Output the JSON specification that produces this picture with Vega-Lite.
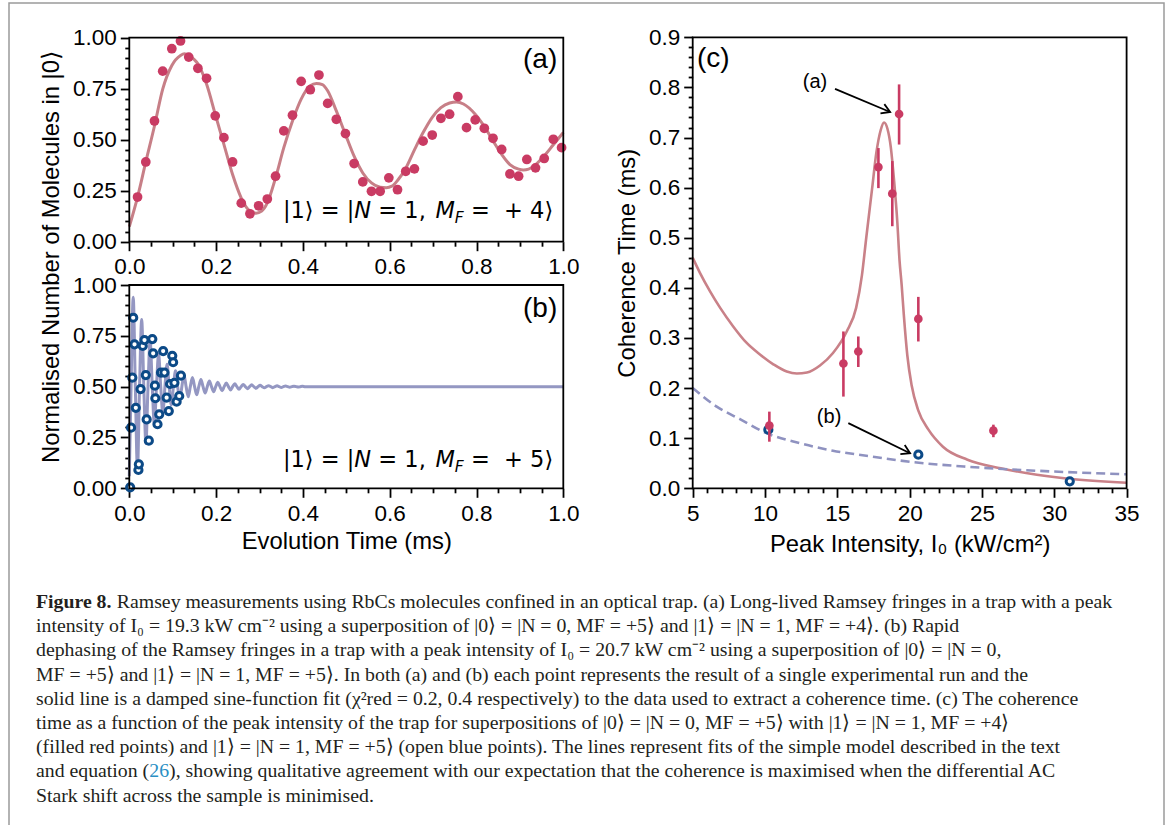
{
"$schema": "https://vega.github.io/schema/vega-lite/v6.json",
"width": 1155, "height": 827,
"autosize": {"type": "none"},
"padding": {"left": 9, "top": 3, "right": 7, "bottom": -5},
"background": "white",
"config": {
  "view": {"stroke": "#9b9b9b", "strokeWidth": 1.5},
  "axis": {"grid": false, "domain": false, "labelFont": "Liberation Sans", "labelFontSize": 22.5, "labelColor": "#000000", "titleFont": "Liberation Sans", "titleFontSize": 23.8, "titleFontWeight": "normal", "titleColor": "#000000", "tickColor": "#000000", "tickWidth": 1.8, "labelOverlap": false, "labelFlush": false, "labelBound": false}
},
"datasets": {
  "a_pts": [{"t":0.019,"v":0.219},{"t":0.038,"v":0.391},{"t":0.058,"v":0.592},{"t":0.077,"v":0.836},{"t":0.098,"v":0.946},{"t":0.118,"v":0.984},{"t":0.137,"v":0.905},{"t":0.158,"v":0.850},{"t":0.178,"v":0.801},{"t":0.198,"v":0.617},{"t":0.218,"v":0.510},{"t":0.238,"v":0.391},{"t":0.258,"v":0.189},{"t":0.278,"v":0.137},{"t":0.298,"v":0.176},{"t":0.318,"v":0.209},{"t":0.337,"v":0.321},{"t":0.356,"v":0.543},{"t":0.376,"v":0.620},{"t":0.396,"v":0.786},{"t":0.417,"v":0.745},{"t":0.437,"v":0.817},{"t":0.457,"v":0.678},{"t":0.477,"v":0.600},{"t":0.498,"v":0.530},{"t":0.518,"v":0.383},{"t":0.538,"v":0.293},{"t":0.558,"v":0.247},{"t":0.578,"v":0.247},{"t":0.598,"v":0.313},{"t":0.618,"v":0.255},{"t":0.637,"v":0.345},{"t":0.657,"v":0.357},{"t":0.677,"v":0.493},{"t":0.698,"v":0.523},{"t":0.718,"v":0.605},{"t":0.738,"v":0.625},{"t":0.757,"v":0.711},{"t":0.777,"v":0.559},{"t":0.797,"v":0.597},{"t":0.818,"v":0.556},{"t":0.838,"v":0.507},{"t":0.858,"v":0.452},{"t":0.877,"v":0.332},{"t":0.897,"v":0.321},{"t":0.916,"v":0.403},{"t":0.936,"v":0.362},{"t":0.956,"v":0.408},{"t":0.977,"v":0.502},{"t":0.996,"v":0.461}],
  "a_fit": [{"t":0,"v":0.074},{"t":0.019,"v":0.219},{"t":0.038,"v":0.391},{"t":0.058,"v":0.567},{"t":0.077,"v":0.748},{"t":0.098,"v":0.864},{"t":0.118,"v":0.913},{"t":0.127,"v":0.921},{"t":0.137,"v":0.913},{"t":0.158,"v":0.872},{"t":0.178,"v":0.773},{"t":0.198,"v":0.625},{"t":0.218,"v":0.477},{"t":0.238,"v":0.329},{"t":0.258,"v":0.214},{"t":0.278,"v":0.150},{"t":0.292,"v":0.140},{"t":0.305,"v":0.150},{"t":0.318,"v":0.190},{"t":0.337,"v":0.313},{"t":0.356,"v":0.461},{"t":0.376,"v":0.592},{"t":0.396,"v":0.699},{"t":0.417,"v":0.765},{"t":0.431,"v":0.776},{"t":0.445,"v":0.770},{"t":0.457,"v":0.740},{"t":0.477,"v":0.641},{"t":0.498,"v":0.526},{"t":0.518,"v":0.419},{"t":0.538,"v":0.337},{"t":0.558,"v":0.288},{"t":0.578,"v":0.267},{"t":0.592,"v":0.265},{"t":0.605,"v":0.272},{"t":0.618,"v":0.300},{"t":0.637,"v":0.360},{"t":0.657,"v":0.450},{"t":0.677,"v":0.535},{"t":0.698,"v":0.610},{"t":0.718,"v":0.657},{"t":0.738,"v":0.680},{"t":0.754,"v":0.685},{"t":0.770,"v":0.675},{"t":0.797,"v":0.625},{"t":0.818,"v":0.565},{"t":0.838,"v":0.495},{"t":0.858,"v":0.428},{"t":0.877,"v":0.378},{"t":0.897,"v":0.356},{"t":0.908,"v":0.352},{"t":0.920,"v":0.356},{"t":0.936,"v":0.378},{"t":0.956,"v":0.420},{"t":0.977,"v":0.475},{"t":1.0,"v":0.535}],
  "b_pts": [{"t":0.002,"v":0.005},{"t":0.004,"v":0.298},{"t":0.007,"v":0.544},{"t":0.009,"v":0.839},{"t":0.012,"v":0.708},{"t":0.015,"v":0.396},{"t":0.021,"v":0.090},{"t":0.022,"v":0.118},{"t":0.026,"v":0.488},{"t":0.031,"v":0.700},{"t":0.035,"v":0.729},{"t":0.038,"v":0.557},{"t":0.040,"v":0.339},{"t":0.045,"v":0.234},{"t":0.053,"v":0.734},{"t":0.055,"v":0.664},{"t":0.059,"v":0.505},{"t":0.060,"v":0.443},{"t":0.065,"v":0.315},{"t":0.069,"v":0.364},{"t":0.073,"v":0.569},{"t":0.078,"v":0.675},{"t":0.081,"v":0.569},{"t":0.086,"v":0.446},{"t":0.091,"v":0.380},{"t":0.094,"v":0.513},{"t":0.099,"v":0.652},{"t":0.101,"v":0.620},{"t":0.104,"v":0.519},{"t":0.109,"v":0.426},{"t":0.115,"v":0.454},{"t":0.119,"v":0.554}],
  "b_fit": [{"t":0,"v":0.06},{"t":0.0041,"v":0.5},{"t":0.009,"v":0.94},{"t":0.0139,"v":0.5},{"t":0.0188,"v":0.09},{"t":0.0236,"v":0.5},{"t":0.0285,"v":0.83},{"t":0.0334,"v":0.5},{"t":0.0383,"v":0.22},{"t":0.0431,"v":0.5},{"t":0.048,"v":0.73},{"t":0.0529,"v":0.5},{"t":0.0578,"v":0.31},{"t":0.0626,"v":0.5},{"t":0.0675,"v":0.66},{"t":0.0724,"v":0.5},{"t":0.0773,"v":0.37},{"t":0.0821,"v":0.5},{"t":0.087,"v":0.61},{"t":0.0919,"v":0.5},{"t":0.0968,"v":0.41},{"t":0.1016,"v":0.5},{"t":0.1065,"v":0.578},{"t":0.1114,"v":0.5},{"t":0.1163,"v":0.434},{"t":0.1211,"v":0.5},{"t":0.126,"v":0.557},{"t":0.1309,"v":0.5},{"t":0.1358,"v":0.45},{"t":0.1406,"v":0.5},{"t":0.1455,"v":0.545},{"t":0.1504,"v":0.5},{"t":0.1553,"v":0.46},{"t":0.1601,"v":0.5},{"t":0.165,"v":0.535},{"t":0.1699,"v":0.5},{"t":0.1748,"v":0.469},{"t":0.1796,"v":0.5},{"t":0.1845,"v":0.528},{"t":0.1894,"v":0.5},{"t":0.1943,"v":0.475},{"t":0.1991,"v":0.5},{"t":0.204,"v":0.522},{"t":0.2089,"v":0.5},{"t":0.2138,"v":0.48},{"t":0.2186,"v":0.5},{"t":0.2235,"v":0.518},{"t":0.2284,"v":0.5},{"t":0.2333,"v":0.484},{"t":0.2381,"v":0.5},{"t":0.243,"v":0.514},{"t":0.2479,"v":0.5},{"t":0.2528,"v":0.487},{"t":0.2576,"v":0.5},{"t":0.2625,"v":0.511},{"t":0.2674,"v":0.5},{"t":0.2723,"v":0.49},{"t":0.2771,"v":0.5},{"t":0.282,"v":0.509},{"t":0.2869,"v":0.5},{"t":0.2918,"v":0.492},{"t":0.2966,"v":0.5},{"t":0.3015,"v":0.507},{"t":0.3064,"v":0.5},{"t":0.3113,"v":0.494},{"t":0.3161,"v":0.5},{"t":0.321,"v":0.505},{"t":0.3259,"v":0.5},{"t":0.3308,"v":0.495},{"t":0.3356,"v":0.5},{"t":0.3405,"v":0.504},{"t":0.3454,"v":0.5},{"t":0.3503,"v":0.496},{"t":0.3551,"v":0.5},{"t":0.36,"v":0.503},{"t":0.3649,"v":0.5},{"t":0.3698,"v":0.497},{"t":0.3746,"v":0.5},{"t":0.3795,"v":0.502},{"t":0.3844,"v":0.5},{"t":0.3893,"v":0.498},{"t":0.3941,"v":0.5},{"t":0.399,"v":0.5015},{"t":0.4039,"v":0.5},{"t":0.4088,"v":0.499},{"t":0.42,"v":0.5},{"t":1.0,"v":0.5}],
  "c_red": [{"I":10.30,"T":0.125,"lo":0.093,"hi":0.153},{"I":15.42,"T":0.249,"lo":0.183,"hi":0.313},{"I":16.45,"T":0.273,"lo":0.242,"hi":0.303},{"I":17.84,"T":0.641,"lo":0.599,"hi":0.679},{"I":18.80,"T":0.588,"lo":0.523,"hi":0.653},{"I":19.27,"T":0.747,"lo":0.686,"hi":0.806},{"I":20.60,"T":0.338,"lo":0.293,"hi":0.382},{"I":25.79,"T":0.115,"lo":0.102,"hi":0.127}],
  "c_blue": [{"I":10.23,"T":0.117},{"I":20.60,"T":0.067},{"I":31.07,"T":0.014}],
  "c_fit_red": [{"I":5.0,"T":0.460},{"I":5.5,"T":0.430},{"I":6.2,"T":0.393},{"I":6.9,"T":0.360},{"I":7.8,"T":0.323},{"I":8.7,"T":0.291},{"I":9.65,"T":0.267},{"I":10.6,"T":0.247},{"I":11.5,"T":0.233},{"I":12.2,"T":0.229},{"I":12.9,"T":0.231},{"I":13.8,"T":0.245},{"I":14.7,"T":0.270},{"I":15.65,"T":0.313},{"I":16.3,"T":0.360},{"I":16.7,"T":0.425},{"I":17.0,"T":0.500},{"I":17.4,"T":0.597},{"I":17.7,"T":0.670},{"I":18.0,"T":0.715},{"I":18.23,"T":0.730},{"I":18.46,"T":0.718},{"I":18.7,"T":0.680},{"I":18.92,"T":0.615},{"I":19.15,"T":0.530},{"I":19.3,"T":0.455},{"I":19.45,"T":0.405},{"I":19.6,"T":0.345},{"I":19.84,"T":0.265},{"I":20.14,"T":0.205},{"I":20.6,"T":0.155},{"I":21.3,"T":0.117},{"I":22.3,"T":0.083},{"I":24.0,"T":0.057},{"I":26.3,"T":0.040},{"I":28.8,"T":0.027},{"I":31.0,"T":0.019},{"I":35.0,"T":0.011}],
  "c_fit_blue": [{"I":5.0,"T":0.200},{"I":6.66,"T":0.163},{"I":8.27,"T":0.138},{"I":10.1,"T":0.110},{"I":12.4,"T":0.090},{"I":14.7,"T":0.075},{"I":17.0,"T":0.065},{"I":20.0,"T":0.053},{"I":24.0,"T":0.043},{"I":28.8,"T":0.035},{"I":35.0,"T":0.028}],
  "caption": [
    {"line":2,"text":"intensity of I₀ = 19.3 kW cm⁻² using a superposition of |0⟩ = |N = 0, MF = +5⟩ and |1⟩ = |N = 1, MF = +4⟩. (b) Rapid"},
    {"line":3,"text":"dephasing of the Ramsey fringes in a trap with a peak intensity of I₀ = 20.7 kW cm⁻² using a superposition of |0⟩ = |N = 0,"},
    {"line":4,"text":"MF = +5⟩ and |1⟩ = |N = 1, MF = +5⟩. In both (a) and (b) each point represents the result of a single experimental run and the"},
    {"line":5,"text":"solid line is a damped sine-function fit (χ²red = 0.2, 0.4 respectively) to the data used to extract a coherence time. (c) The coherence"},
    {"line":6,"text":"time as a function of the peak intensity of the trap for superpositions of |0⟩ = |N = 0, MF = +5⟩ with |1⟩ = |N = 1, MF = +4⟩"},
    {"line":7,"text":"(filled red points) and |1⟩ = |N = 1, MF = +5⟩ (open blue points). The lines represent fits of the simple model described in the text"},
    {"line":9,"text":"Stark shift across the sample is minimised."}
  ]
},
"resolve": {"scale": {"x": "independent", "y": "independent"}},
"layer": [
  {
    "resolve": {"axis": {"x": "independent", "y": "independent"}},
    "layer": [
      {"data": {"name": "a_fit"}, "mark": {"type": "line", "color": "#c77f87", "strokeWidth": 3, "interpolate": "monotone"},
       "encoding": {"x": {"field": "t", "type": "quantitative", "axis": null}, "y": {"field": "v", "type": "quantitative", "axis": null}}},
      {"data": {"name": "a_pts"}, "mark": {"type": "point", "filled": true, "color": "#c93b63", "size": 95, "opacity": 1},
       "encoding": {"x": {"field": "t", "type": "quantitative", "axis": null}, "y": {"field": "v", "type": "quantitative", "axis": null}}},
      {"data": {"values": [{}]}, "mark": {"type": "text", "align": "left", "baseline": "alphabetic", "font": "DejaVu Sans", "fontSize": 22.5, "color": "#000000"},
       "encoding": {"x": {"datum": 0.354, "type": "quantitative", "axis": null}, "y": {"datum": 0.115, "type": "quantitative", "axis": null}, "text": {"value": "|1⟩ = |"}}},
      {"data": {"values": [{}]}, "mark": {"type": "text", "align": "left", "baseline": "alphabetic", "font": "DejaVu Sans", "fontSize": 22.5, "fontStyle": "italic", "dx": 71.4, "color": "#000000"},
       "encoding": {"x": {"datum": 0.354, "type": "quantitative", "axis": null}, "y": {"datum": 0.115, "type": "quantitative", "axis": null}, "text": {"value": "N"}}},
      {"data": {"values": [{}]}, "mark": {"type": "text", "align": "left", "baseline": "alphabetic", "font": "DejaVu Sans", "fontSize": 22.5, "dx": 95.4, "color": "#000000"},
       "encoding": {"x": {"datum": 0.354, "type": "quantitative", "axis": null}, "y": {"datum": 0.115, "type": "quantitative", "axis": null}, "text": {"value": "= 1,"}}},
      {"data": {"values": [{}]}, "mark": {"type": "text", "align": "left", "baseline": "alphabetic", "font": "DejaVu Sans", "fontSize": 22.5, "fontStyle": "italic", "dx": 152.5, "color": "#000000"},
       "encoding": {"x": {"datum": 0.354, "type": "quantitative", "axis": null}, "y": {"datum": 0.115, "type": "quantitative", "axis": null}, "text": {"value": "M"}}},
      {"data": {"values": [{}]}, "mark": {"type": "text", "align": "left", "baseline": "alphabetic", "font": "DejaVu Sans", "fontSize": 15.5, "fontStyle": "italic", "dx": 171.9, "dy": 5, "color": "#000000"},
       "encoding": {"x": {"datum": 0.354, "type": "quantitative", "axis": null}, "y": {"datum": 0.115, "type": "quantitative", "axis": null}, "text": {"value": "F"}}},
      {"data": {"values": [{}]}, "mark": {"type": "text", "align": "left", "baseline": "alphabetic", "font": "DejaVu Sans", "fontSize": 22.5, "dx": 188.0, "color": "#000000"},
       "encoding": {"x": {"datum": 0.354, "type": "quantitative", "axis": null}, "y": {"datum": 0.115, "type": "quantitative", "axis": null}, "text": {"value": "= \u00a0+ 4⟩"}}},
      {"data": {"values": [{}]}, "mark": {"type": "text", "align": "right", "baseline": "alphabetic", "font": "Liberation Sans", "fontSize": 28, "color": "#000000"},
       "encoding": {"x": {"datum": 0.986, "type": "quantitative", "axis": null}, "y": {"datum": 0.851, "type": "quantitative", "axis": null}, "text": {"value": "(a)"}}},
      {"data": {"values": [{}]}, "mark": {"type": "rect", "filled": false, "stroke": "#000000", "strokeWidth": 1.8},
       "encoding": {
         "x": {"datum": 0, "type": "quantitative", "scale": {"domain": [0, 1], "range": [120.3, 554.3], "nice": false, "zero": false},
               "axis": {"orient": "bottom", "offset": -588.3, "values": [0,0.2,0.4,0.6,0.8,1], "format": ".1f", "tickSize": 9, "labelPadding": 5, "title": null}},
         "x2": {"datum": 1},
         "y": {"datum": 0, "type": "quantitative", "scale": {"domain": [0, 1], "range": [238.7, 34.7], "nice": false, "zero": false},
               "axis": {"orient": "left", "offset": -120.3, "values": [0,0.25,0.5,0.75,1], "format": ".2f", "tickSize": 9, "labelPadding": 4, "title": null}},
         "y2": {"datum": 1}
       }},
      {"data": {"values": [{}]}, "mark": {"type": "rect", "filled": false, "stroke": "#000000", "strokeWidth": 1.8, "opacity": 0},
       "encoding": {
         "x": {"datum": 0, "type": "quantitative",
               "axis": {"orient": "bottom", "offset": -588.3, "values": [0.05,0.1,0.15,0.25,0.3,0.35,0.45,0.5,0.55,0.65,0.7,0.75,0.85,0.9,0.95], "labels": false, "tickSize": 4.5, "title": null}},
         "x2": {"datum": 1},
         "y": {"datum": 0, "type": "quantitative",
               "axis": {"orient": "left", "offset": -120.3, "values": [0.05,0.1,0.15,0.2,0.3,0.35,0.4,0.45,0.55,0.6,0.65,0.7,0.8,0.85,0.9,0.95], "labels": false, "tickSize": 4.5, "title": null}},
         "y2": {"datum": 1}
       }}
    ]
  },
  {
    "resolve": {"axis": {"x": "independent", "y": "independent"}},
    "layer": [
      {"data": {"name": "b_fit"}, "mark": {"type": "line", "color": "#9497c2", "strokeWidth": 3, "interpolate": "monotone"},
       "encoding": {"x": {"field": "t", "type": "quantitative", "axis": null}, "y": {"field": "v", "type": "quantitative", "axis": null}}},
      {"data": {"name": "b_pts"}, "mark": {"type": "point", "filled": false, "fill": "#ffffff", "color": "#0c4a87", "size": 52, "strokeWidth": 3, "opacity": 1},
       "encoding": {"x": {"field": "t", "type": "quantitative", "axis": null}, "y": {"field": "v", "type": "quantitative", "axis": null}}},
      {"data": {"values": [{}]}, "mark": {"type": "text", "align": "left", "baseline": "alphabetic", "font": "DejaVu Sans", "fontSize": 22.5, "color": "#000000"},
       "encoding": {"x": {"datum": 0.354, "type": "quantitative", "axis": null}, "y": {"datum": 0.106, "type": "quantitative", "axis": null}, "text": {"value": "|1⟩ = |"}}},
      {"data": {"values": [{}]}, "mark": {"type": "text", "align": "left", "baseline": "alphabetic", "font": "DejaVu Sans", "fontSize": 22.5, "fontStyle": "italic", "dx": 71.4, "color": "#000000"},
       "encoding": {"x": {"datum": 0.354, "type": "quantitative", "axis": null}, "y": {"datum": 0.106, "type": "quantitative", "axis": null}, "text": {"value": "N"}}},
      {"data": {"values": [{}]}, "mark": {"type": "text", "align": "left", "baseline": "alphabetic", "font": "DejaVu Sans", "fontSize": 22.5, "dx": 95.4, "color": "#000000"},
       "encoding": {"x": {"datum": 0.354, "type": "quantitative", "axis": null}, "y": {"datum": 0.106, "type": "quantitative", "axis": null}, "text": {"value": "= 1,"}}},
      {"data": {"values": [{}]}, "mark": {"type": "text", "align": "left", "baseline": "alphabetic", "font": "DejaVu Sans", "fontSize": 22.5, "fontStyle": "italic", "dx": 152.5, "color": "#000000"},
       "encoding": {"x": {"datum": 0.354, "type": "quantitative", "axis": null}, "y": {"datum": 0.106, "type": "quantitative", "axis": null}, "text": {"value": "M"}}},
      {"data": {"values": [{}]}, "mark": {"type": "text", "align": "left", "baseline": "alphabetic", "font": "DejaVu Sans", "fontSize": 15.5, "fontStyle": "italic", "dx": 171.9, "dy": 5, "color": "#000000"},
       "encoding": {"x": {"datum": 0.354, "type": "quantitative", "axis": null}, "y": {"datum": 0.106, "type": "quantitative", "axis": null}, "text": {"value": "F"}}},
      {"data": {"values": [{}]}, "mark": {"type": "text", "align": "left", "baseline": "alphabetic", "font": "DejaVu Sans", "fontSize": 22.5, "dx": 188.0, "color": "#000000"},
       "encoding": {"x": {"datum": 0.354, "type": "quantitative", "axis": null}, "y": {"datum": 0.106, "type": "quantitative", "axis": null}, "text": {"value": "= \u00a0+ 5⟩"}}},
      {"data": {"values": [{}]}, "mark": {"type": "text", "align": "right", "baseline": "alphabetic", "font": "Liberation Sans", "fontSize": 28, "color": "#000000"},
       "encoding": {"x": {"datum": 0.986, "type": "quantitative", "axis": null}, "y": {"datum": 0.843, "type": "quantitative", "axis": null}, "text": {"value": "(b)"}}},
      {"data": {"values": [{}]}, "mark": {"type": "rect", "filled": false, "stroke": "#000000", "strokeWidth": 1.8},
       "encoding": {
         "x": {"datum": 0, "type": "quantitative", "scale": {"domain": [0, 1], "range": [120.3, 554.3], "nice": false, "zero": false},
               "axis": {"orient": "bottom", "offset": -341.7, "values": [0,0.2,0.4,0.6,0.8,1], "format": ".1f", "tickSize": 9, "labelPadding": 5, "title": "Evolution Time (ms)", "titlePadding": 5}},
         "x2": {"datum": 1},
         "y": {"datum": 0, "type": "quantitative", "scale": {"domain": [0, 1], "range": [485.3, 282], "nice": false, "zero": false},
               "axis": {"orient": "left", "offset": -120.3, "values": [0,0.25,0.5,0.75,1], "format": ".2f", "tickSize": 9, "labelPadding": 4, "title": "Normalised Number of Molecules in |0⟩", "titleY": 253.5, "titlePadding": 9}},
         "y2": {"datum": 1}
       }},
      {"data": {"values": [{}]}, "mark": {"type": "rect", "filled": false, "stroke": "#000000", "strokeWidth": 1.8, "opacity": 0},
       "encoding": {
         "x": {"datum": 0, "type": "quantitative",
               "axis": {"orient": "bottom", "offset": -341.7, "values": [0.05,0.1,0.15,0.25,0.3,0.35,0.45,0.5,0.55,0.65,0.7,0.75,0.85,0.9,0.95], "labels": false, "tickSize": 4.5, "title": null}},
         "x2": {"datum": 1},
         "y": {"datum": 0, "type": "quantitative",
               "axis": {"orient": "left", "offset": -120.3, "values": [0.05,0.1,0.15,0.2,0.3,0.35,0.4,0.45,0.55,0.6,0.65,0.7,0.8,0.85,0.9,0.95], "labels": false, "tickSize": 4.5, "title": null}},
         "y2": {"datum": 1}
       }}
    ]
  },
  {
    "resolve": {"axis": {"x": "independent", "y": "independent"}},
    "layer": [
      {"data": {"name": "c_fit_red"}, "mark": {"type": "line", "color": "#c98188", "strokeWidth": 2.6, "interpolate": "monotone"},
       "encoding": {"x": {"field": "I", "type": "quantitative", "axis": null}, "y": {"field": "T", "type": "quantitative", "axis": null}}},
      {"data": {"name": "c_fit_blue"}, "mark": {"type": "line", "color": "#8f92c0", "strokeWidth": 2.6, "strokeDash": [9, 5], "interpolate": "monotone"},
       "encoding": {"x": {"field": "I", "type": "quantitative", "axis": null}, "y": {"field": "T", "type": "quantitative", "axis": null}}},
      {"data": {"name": "c_blue"}, "mark": {"type": "point", "filled": false, "fill": "#ffffff", "color": "#0c4a87", "size": 52, "strokeWidth": 3, "opacity": 1},
       "encoding": {"x": {"field": "I", "type": "quantitative", "axis": null}, "y": {"field": "T", "type": "quantitative", "axis": null}}},
      {"data": {"name": "c_red"}, "mark": {"type": "rule", "color": "#c93b63", "strokeWidth": 2.6},
       "encoding": {"x": {"field": "I", "type": "quantitative", "axis": null}, "y": {"field": "lo", "type": "quantitative", "axis": null}, "y2": {"field": "hi"}}},
      {"data": {"name": "c_red"}, "mark": {"type": "point", "filled": true, "color": "#c93b63", "size": 75, "opacity": 1},
       "encoding": {"x": {"field": "I", "type": "quantitative", "axis": null}, "y": {"field": "T", "type": "quantitative", "axis": null}}},
      {"data": {"values": [{}]}, "mark": {"type": "rule", "color": "#000000", "strokeWidth": 1.8},
       "encoding": {"x": {"datum": 14.84, "type": "quantitative", "axis": null}, "x2": {"datum": 18.65}, "y": {"datum": 0.797, "type": "quantitative", "axis": null}, "y2": {"datum": 0.751}}},
      {"data": {"values": [{}]}, "mark": {"type": "point", "shape": "M-1,-0.6L0,0L-1,0.6", "filled": false, "color": "#000000", "strokeWidth": 1.8, "size": 280, "angle": 22.7, "opacity": 1},
       "encoding": {"x": {"datum": 18.65, "type": "quantitative", "axis": null}, "y": {"datum": 0.751, "type": "quantitative", "axis": null}}},
      {"data": {"values": [{}]}, "mark": {"type": "rule", "color": "#000000", "strokeWidth": 1.8},
       "encoding": {"x": {"datum": 15.76, "type": "quantitative", "axis": null}, "x2": {"datum": 20.03}, "y": {"datum": 0.130, "type": "quantitative", "axis": null}, "y2": {"datum": 0.070}}},
      {"data": {"values": [{}]}, "mark": {"type": "point", "shape": "M-1,-0.6L0,0L-1,0.6", "filled": false, "color": "#000000", "strokeWidth": 1.8, "size": 280, "angle": 25.8, "opacity": 1},
       "encoding": {"x": {"datum": 20.03, "type": "quantitative", "axis": null}, "y": {"datum": 0.070, "type": "quantitative", "axis": null}}},
      {"data": {"values": [{}]}, "mark": {"type": "text", "align": "center", "baseline": "middle", "font": "Liberation Sans", "fontSize": 20, "color": "#000000"},
       "encoding": {"x": {"datum": 13.46, "type": "quantitative", "axis": null}, "y": {"datum": 0.81, "type": "quantitative", "axis": null}, "text": {"value": "(a)"}}},
      {"data": {"values": [{}]}, "mark": {"type": "text", "align": "center", "baseline": "middle", "font": "Liberation Sans", "fontSize": 20, "color": "#000000"},
       "encoding": {"x": {"datum": 14.43, "type": "quantitative", "axis": null}, "y": {"datum": 0.143, "type": "quantitative", "axis": null}, "text": {"value": "(b)"}}},
      {"data": {"values": [{}]}, "mark": {"type": "text", "align": "left", "baseline": "alphabetic", "font": "Liberation Sans", "fontSize": 28, "color": "#000000"},
       "encoding": {"x": {"datum": 5.3, "type": "quantitative", "axis": null}, "y": {"datum": 0.84, "type": "quantitative", "axis": null}, "text": {"value": "(c)"}}},
      {"data": {"values": [{}]}, "mark": {"type": "rect", "filled": false, "stroke": "#000000", "strokeWidth": 1.8},
       "encoding": {
         "x": {"datum": 5, "type": "quantitative", "scale": {"domain": [5, 35], "range": [683.7, 1117.6], "nice": false, "zero": false},
               "axis": {"orient": "bottom", "offset": -341.7, "values": [5,10,15,20,25,30,35], "format": "d", "tickSize": 9, "labelPadding": 5, "title": "Peak Intensity, I₀ (kW/cm²)", "titlePadding": 8}},
         "x2": {"datum": 35},
         "y": {"datum": 0, "type": "quantitative", "scale": {"domain": [0, 0.9], "range": [485.3, 34.3], "nice": false, "zero": false},
               "axis": {"orient": "left", "offset": -683.7, "values": [0,0.1,0.2,0.3,0.4,0.5,0.6,0.7,0.8,0.9], "format": ".1f", "tickSize": 9, "labelPadding": 4, "title": "Coherence Time (ms)", "titlePadding": 9}},
         "y2": {"datum": 0.9}
       }},
      {"data": {"values": [{}]}, "mark": {"type": "rect", "filled": false, "stroke": "#000000", "strokeWidth": 1.8, "opacity": 0},
       "encoding": {
         "x": {"datum": 5, "type": "quantitative",
               "axis": {"orient": "bottom", "offset": -341.7, "values": [6,7,8,9,11,12,13,14,16,17,18,19,21,22,23,24,26,27,28,29,31,32,33,34], "labels": false, "tickSize": 4.5, "title": null}},
         "x2": {"datum": 35},
         "y": {"datum": 0, "type": "quantitative",
               "axis": {"orient": "left", "offset": -683.7, "values": [0.02,0.04,0.06,0.08,0.12,0.14,0.16,0.18,0.22,0.24,0.26,0.28,0.32,0.34,0.36,0.38,0.42,0.44,0.46,0.48,0.52,0.54,0.56,0.58,0.62,0.64,0.66,0.68,0.72,0.74,0.76,0.78,0.82,0.84,0.86,0.88], "labels": false, "tickSize": 4.5, "title": null}},
         "y2": {"datum": 0.9}
       }}
    ]
  },
  {
    "layer": [
      {"data": {"name": "caption"}, "mark": {"type": "text", "align": "left", "baseline": "alphabetic", "font": "Liberation Serif", "fontSize": 19.8, "color": "#231f20"},
       "encoding": {"x": {"datum": 0, "type": "quantitative", "scale": {"domain": [0, 1], "range": [27, 1111]}, "axis": null},
                    "y": {"field": "line", "type": "quantitative", "scale": {"domain": [1, 9], "range": [605, 798.7]}, "axis": null},
                    "text": {"field": "text"}}},
      {"data": {"values": [{}]}, "mark": {"type": "text", "align": "left", "baseline": "alphabetic", "font": "Liberation Serif", "fontSize": 19.8, "fontWeight": "bold", "color": "#231f20"},
       "encoding": {"x": {"datum": 0, "type": "quantitative", "axis": null}, "y": {"datum": 1, "type": "quantitative", "axis": null}, "text": {"value": "Figure 8."}}},
      {"data": {"values": [{}]}, "mark": {"type": "text", "align": "left", "baseline": "alphabetic", "font": "Liberation Serif", "fontSize": 19.8, "dx": 80.8, "color": "#231f20"},
       "encoding": {"x": {"datum": 0, "type": "quantitative", "axis": null}, "y": {"datum": 1, "type": "quantitative", "axis": null}, "text": {"value": "Ramsey measurements using RbCs molecules confined in an optical trap. (a) Long-lived Ramsey fringes in a trap with a peak"}}},
      {"data": {"values": [{}]}, "mark": {"type": "text", "align": "left", "baseline": "alphabetic", "font": "Liberation Serif", "fontSize": 19.8, "color": "#231f20"},
       "encoding": {"x": {"datum": 0, "type": "quantitative", "axis": null}, "y": {"datum": 8, "type": "quantitative", "axis": null}, "text": {"value": "and equation ("}}},
      {"data": {"values": [{}]}, "mark": {"type": "text", "align": "left", "baseline": "alphabetic", "font": "Liberation Serif", "fontSize": 19.8, "dx": 113.3, "color": "#2a8fc4"},
       "encoding": {"x": {"datum": 0, "type": "quantitative", "axis": null}, "y": {"datum": 8, "type": "quantitative", "axis": null}, "text": {"value": "26"}}},
      {"data": {"values": [{}]}, "mark": {"type": "text", "align": "left", "baseline": "alphabetic", "font": "Liberation Serif", "fontSize": 19.8, "dx": 133.1, "color": "#231f20"},
       "encoding": {"x": {"datum": 0, "type": "quantitative", "axis": null}, "y": {"datum": 8, "type": "quantitative", "axis": null}, "text": {"value": "), showing qualitative agreement with our expectation that the coherence is maximised when the differential AC"}}}
    ]
  }
]
}
